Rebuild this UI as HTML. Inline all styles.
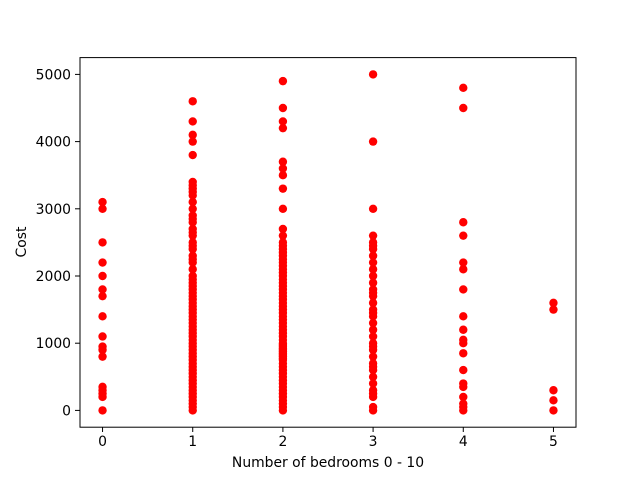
<!DOCTYPE html>
<html><head><meta charset="utf-8"><style>
html,body{margin:0;padding:0;background:#fff;}
svg text{font-family:"DejaVu Sans","Liberation Sans",sans-serif;font-size:13.9px;fill:#000;}
</style></head><body>
<svg id="chart" width="640" height="480">
<rect width="640" height="480" fill="#fff"/>
<g id="points"></g>
<rect x="80" y="57.6" width="496" height="369.6" fill="none" stroke="#000" stroke-width="1"/>
<g id="xt"></g>
<g id="yt"></g>
<text x="328" y="467" text-anchor="middle">Number of bedrooms 0 - 10</text>
<text transform="translate(26,242) rotate(-90)" text-anchor="middle">Cost</text>
</svg>
<script>
const xTicks=[0,1,2,3,4,5];
const yTicks=[0,1000,2000,3000,4000,5000];
const beds0=[3100,3000,2500,2200,2000,1800,1700,1400,1100,950,900,800,350,300,250,200,0];
const beds1=[4600,4300,4100,4000,3800,3400,3350,3300,3250,3200,3100,3000,2900,2850,2800,2700,2650,2600,2500,2450,2400,2300,2250,2200,2100,2000,1950,1900,1850,1800,1750,1700,1650,1600,1550,1500,1450,1400,1350,1300,1250,1200,1150,1100,1050,1000,950,900,850,800,750,700,650,600,550,500,450,400,350,300,250,200,150,100,50,0];
const beds2=[4900,4500,4300,4200,3700,3600,3500,3300,3000,2700,2600,2500,2450,2400,2350,2300,2250,2200,2150,2100,2050,2000,1950,1900,1850,1800,1750,1700,1650,1600,1550,1500,1450,1400,1350,1300,1250,1200,1150,1100,1050,1000,975,950,925,900,875,850,825,800,775,750,700,650,600,550,500,450,400,350,300,250,200,150,100,50,0];
const beds3=[5000,4000,3000,2600,2500,2450,2400,2300,2200,2100,2000,1900,1800,1750,1700,1600,1500,1450,1400,1300,1200,1100,1000,950,900,800,700,650,600,500,400,300,250,200,50,0];
const beds4=[4800,4500,2800,2600,2200,2100,1800,1400,1200,1050,1000,850,600,400,350,200,100,50,0];
const beds5=[1600,1500,300,150,0];
const series=[beds0,beds1,beds2,beds3,beds4,beds5];
const NS='http://www.w3.org/2000/svg';
const xs=v=>80+(v+0.25)/5.5*496;
const ys=v=>427.2-(v+250)/5500*369.6;
const pts=document.getElementById('points');
series.forEach((arr,b)=>arr.forEach(v=>{
 const c=document.createElementNS(NS,'circle');
 c.setAttribute('cx',xs(b));c.setAttribute('cy',ys(v));c.setAttribute('r',4.2);c.setAttribute('fill','#ff0000');
 
 
 pts.appendChild(c);
}));
const xt=document.getElementById('xt');
xTicks.forEach(t=>{
 const l=document.createElementNS(NS,'line');
 l.setAttribute('x1',xs(t));l.setAttribute('x2',xs(t));l.setAttribute('y1',427.2);l.setAttribute('y2',432);l.setAttribute('stroke','#000');
 
 
 xt.appendChild(l);
 const tx=document.createElementNS(NS,'text');
 tx.setAttribute('x',xs(t));tx.setAttribute('y',446);tx.setAttribute('text-anchor','middle');tx.textContent=t;
 
 
 xt.appendChild(tx);
});
const yt=document.getElementById('yt');
yTicks.forEach(t=>{
 const l=document.createElementNS(NS,'line');
 l.setAttribute('x1',75);l.setAttribute('x2',80);l.setAttribute('y1',ys(t));l.setAttribute('y2',ys(t));l.setAttribute('stroke','#000');
 
 
 yt.appendChild(l);
 const tx=document.createElementNS(NS,'text');
 tx.setAttribute('x',71);tx.setAttribute('y',ys(t)+5);tx.setAttribute('text-anchor','end');tx.textContent=t;
 
 
 yt.appendChild(tx);
});
</script>
</body></html>
